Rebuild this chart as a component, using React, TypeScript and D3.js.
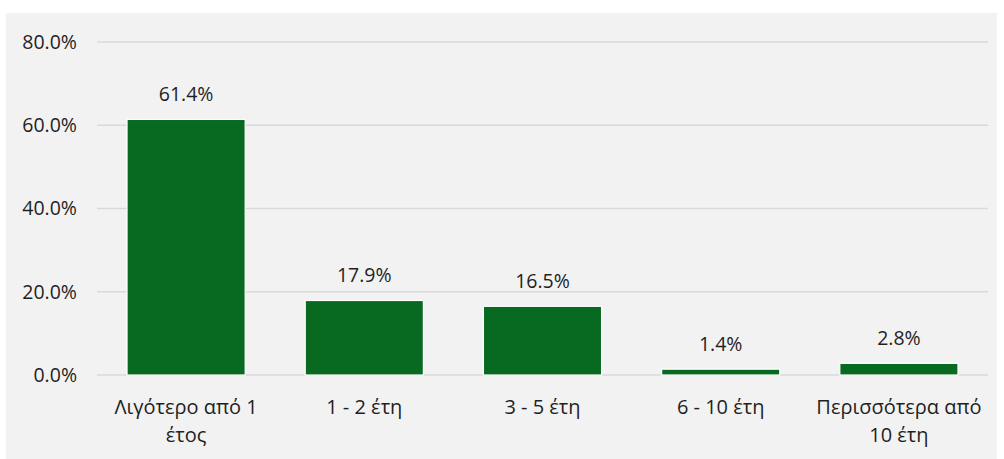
import React from "react";
import * as d3 from "d3";

const categories: string[][] = [
  ["Λιγότερο από 1", "έτος"],
  ["1 - 2 έτη"],
  ["3 - 5 έτη"],
  ["6 - 10 έτη"],
  ["Περισσότερα από", "10 έτη"],
];
const values: number[] = [61.4, 17.9, 16.5, 1.4, 2.8];
const yTicks: number[] = [0, 20, 40, 60, 80];

const W = 1004;
const H = 459;
const plot = { left: 97, right: 988, top: 42, bottom: 375 };
const FONT = "'Open Sans', 'Liberation Sans', sans-serif";
const TEXT = "#1f1f1f";

export default function App() {
  const x = d3
    .scaleBand<number>()
    .domain(values.map((_, i) => i))
    .range([plot.left, plot.right])
    .paddingInner(0.337)
    .paddingOuter(0.1685);
  const y = d3.scaleLinear().domain([0, 80]).range([plot.bottom, plot.top]);

  return (
    <svg
      width={W}
      height={H}
      style={{ position: "absolute", left: 0, top: 0, display: "block" }}
    >
      <rect x={0} y={0} width={W} height={H} fill="#ffffff" />
      <rect x={6} y={13} width={991} height={446} fill="#f2f2f2" />
      {yTicks.map((t) => (
        <g key={t}>
          <line
            x1={plot.left}
            x2={plot.right}
            y1={y(t)}
            y2={y(t)}
            stroke="#d9d9d9"
            strokeWidth={1.3}
          />
          <text
            x={77}
            y={y(t) + 6.8}
            textAnchor="end"
            fontFamily={FONT}
            fontSize={19.5}
            fill={TEXT}
          >
            {t.toFixed(1) + "%"}
          </text>
        </g>
      ))}
      {values.map((v, i) => (
        <g key={i}>
          <rect
            x={x(i)!}
            y={y(v)}
            width={x.bandwidth()}
            height={y(0) - y(v)}
            fill="#086a20"
            stroke="#ffffff"
            strokeWidth={1.2}
          />
          <text
            x={x(i)! + x.bandwidth() / 2}
            y={y(v) - 18}
            textAnchor="middle"
            fontFamily={FONT}
            fontSize={19.5}
            fill={TEXT}
          >
            {v.toFixed(1) + "%"}
          </text>
          {categories[i].map((line, j) => (
            <text
              key={j}
              x={x(i)! + x.bandwidth() / 2}
              y={414 + j * 27.5}
              textAnchor="middle"
              fontFamily={FONT}
              fontSize={20}
              fill={TEXT}
            >
              {line}
            </text>
          ))}
        </g>
      ))}
    </svg>
  );
}
